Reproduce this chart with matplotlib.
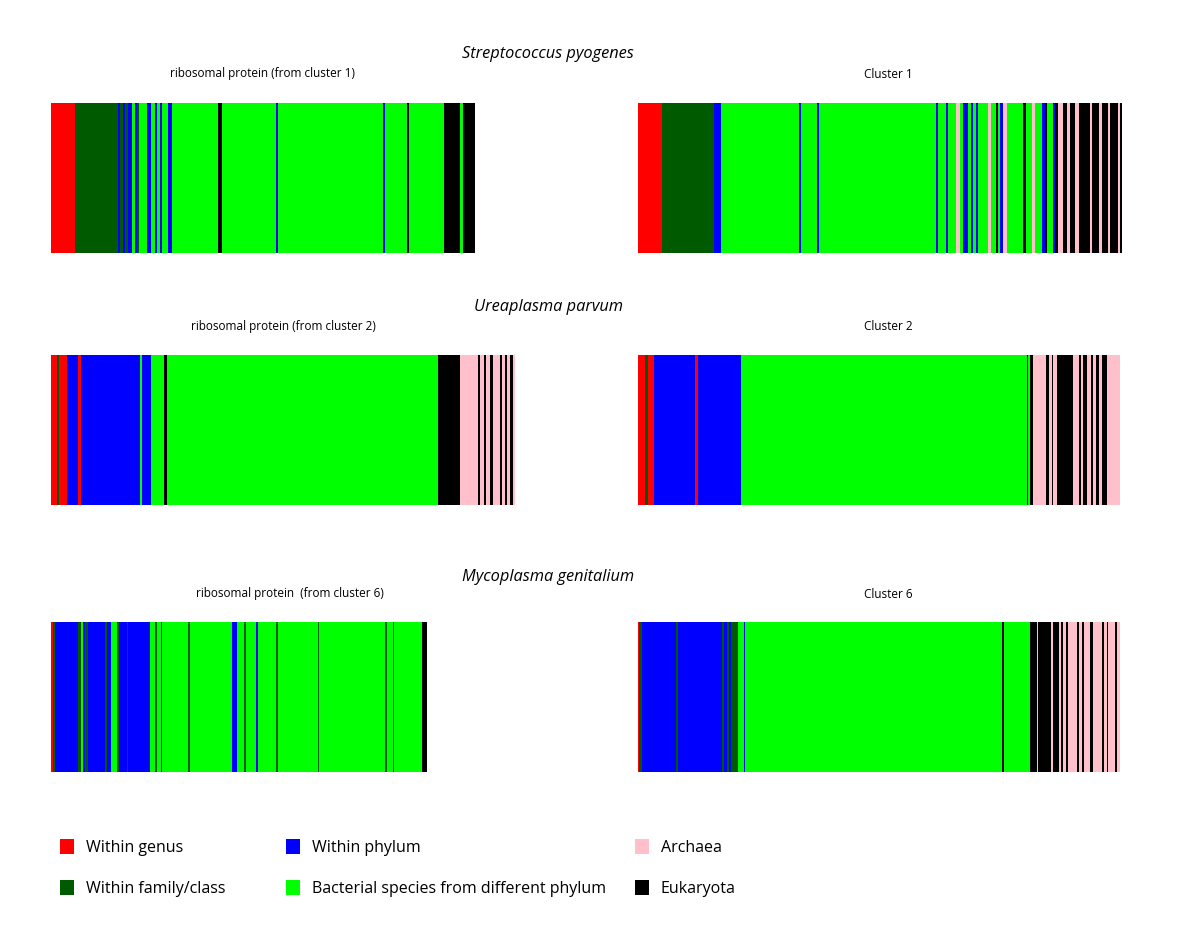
"""
Hit-taxonomy barcodes for three genomes: each bar is the ordered list of
BLAST hits for a ribosomal protein (left) and its whole cluster (right),
coloured by how far the hit sits from the query taxon.
"""
import matplotlib.pyplot as plt
from matplotlib.patches import Rectangle

W, H = 1200, 927

colors = {
    "R": "#ff0000",   # within genus
    "D": "#005a00",   # within family/class
    "B": "#0000ff",   # within phylum
    "G": "#00ff00",   # bacterial species from different phylum
    "P": "#ffc0cb",   # archaea
    "K": "#000000",   # eukaryota
}

species = ["Streptococcus pyogenes", "Ureaplasma parvum", "Mycoplasma genitalium"]
left_titles = ["ribosomal protein (from cluster 1)",
               "ribosomal protein (from cluster 2)",
               "ribosomal protein  (from cluster 6)"]
right_titles = ["Cluster 1", "Cluster 2", "Cluster 6"]

# run-length encoded hit categories and run widths
spy_rp_cats = "RDBDBDBGBD" "GBGBGBGBGK" "GBGBGKGKGK"
spy_rp_widths = [24, 43.3, 1.7, 3, 2, 3, 4, 3, 2, 2,
                 8, 3.7, 4.3, 1.7, 3.3, 1.7, 6.6, 4, 46, 3.4,
                 54, 2, 105, 2.3, 21.7, 2.3, 35.3, 15.7, 2.7, 12.3]

spy_cl_cats = "RDBGBGBGBG" "BGPGBGBGBG" "PGKGBPGKGP" "GBKGBKPKPK" "PKPKPKPKPK"
spy_cl_widths = [24, 51.7, 7.6, 77.4, 2.3, 16, 2.3, 116.7, 2.3, 7.4,
                 2, 8, 4.3, 3.3, 5, 2.4, 2, 3, 2, 10.6,
                 2.4, 5, 2, 2.3, 2.7, 4, 16.6, 2.4, 6.6, 2.7,
                 6.7, 3.3, 1.7, 6.6, 1.7, 2.7, 5.6, 3.4, 3.3, 5,
                 4, 11, 2.3, 6.7, 2.7, 6.6, 1.7, 7.7, 2.3, 1.7]

upa_rp_cats = "RDRBRBGBGK" "GKPKPKPKPK" "PKPKP"
upa_rp_widths = [5.7, 2.3, 7.7, 11.6, 2.7, 59, 2.3, 8.7, 13.3, 2.4,
                 271.6, 21.7, 18.3, 1.7, 4, 2, 4, 3.3, 6.7, 1.7,
                 3.3, 2.3, 2.7, 3.3, 1.7]

upa_cl_cats = "RDRBRBGKGK" "PKPKPKPKPK" "PKPKPKP"
upa_cl_widths = [7.3, 2.7, 5.7, 41.6, 2.7, 43.3, 285.4, 1.6, 1.7, 2.7,
                 13, 3.3, 2.7, 1.6, 3.4, 16.6, 5.7, 2, 2.3, 3.4,
                 4.3, 2.3, 2.4, 3.3, 3.3, 4.4, 13.3]

mge_rp_cats = "RDBDGBDBDB" "GDBDBGDGBG" "DGBGDGBGDG" "DGDGDGK"
mge_rp_widths = [2.3, 1.7, 23.3, 2.7, 2.3, 1.7, 2.7, 17.3, 1.7, 4,
                 6, 2.3, 7.7, 1.6, 21.7, 5, 1.7, 4, 1.6, 26,
                 1.7, 41.7, 5, 7.6, 1.7, 9.7, 2, 18, 2, 40,
                 1.6, 65.7, 2, 5.7, 1.6, 28, 4.4]

mge_cl_cats = "RDBDBDBDBD" "GBGKGKPKPK" "PKPKPKPKPK" "PKPKPKP"
mge_cl_widths = [1.3, 2.7, 34.3, 1.7, 44, 1.7, 3.3, 2.3, 2, 6.7,
                 5.7, 1.6, 257, 1.7, 26, 6.7, 1.6, 12.7, 2.3, 6,
                 1.7, 2.3, 2.4, 2.6, 8.4, 2.3, 2.7, 2.6, 5.7, 3.3,
                 8.4, 2.6, 3, 1, 6.7, 1.7, 3.3]

rows = [
    ((spy_rp_cats, spy_rp_widths), (spy_cl_cats, spy_cl_widths)),
    ((upa_rp_cats, upa_rp_widths), (upa_cl_cats, upa_cl_widths)),
    ((mge_rp_cats, mge_rp_widths), (mge_cl_cats, mge_cl_widths)),
]

# pixel layout of the reference
bar_tops = [103, 355, 622]
bar_h = 150
col_left = [51, 638]
col_span = [470, 486]
species_y = [54, 307, 577]
sub_y = [74, 327, 594]
left_title_x = [263, 283, 290]
right_title_x = 888


def fx(x):
    return x / W


def fy(y):
    return 1 - y / H


fig = plt.figure(figsize=(W / 100, H / 100), dpi=100)
plt.rcParams["font.family"] = ["Open Sans", "DejaVu Sans"]

for r, pair in enumerate(rows):
    for c, (cats, widths) in enumerate(pair):
        assert len(cats) == len(widths), (r, c, len(cats), len(widths))
        ax = fig.add_axes([fx(col_left[c]), fy(bar_tops[r] + bar_h),
                           col_span[c] / W, bar_h / H])
        lefts = [sum(widths[:i]) for i in range(len(widths))]
        ax.barh(0, widths, left=lefts, height=1,
                color=[colors[k] for k in cats], linewidth=0)
        ax.set_xlim(0, col_span[c])
        ax.set_ylim(-0.5, 0.5)
        ax.axis("off")
    fig.text(fx(548), fy(species_y[r]), species[r], ha="center", va="center",
             fontsize=11.8, style="italic")
    fig.text(fx(left_title_x[r]), fy(sub_y[r]), left_titles[r], ha="center",
             va="center", fontsize=8.5)
    fig.text(fx(right_title_x), fy(sub_y[r]), right_titles[r], ha="center",
             va="center", fontsize=8.5)

# legend
legend_labels = ["Within genus", "Within family/class", "Within phylum",
                 "Bacterial species from different phylum", "Archaea", "Eukaryota"]
legend_keys = ["R", "D", "B", "G", "P", "K"]
legend_x = [60, 60, 286, 286, 635, 635]
legend_y = [847, 888, 847, 888, 847, 888]
for lab, key, x, y in zip(legend_labels, legend_keys, legend_x, legend_y):
    fig.patches.append(Rectangle((fx(x), fy(y + 7)), 14 / W, 15 / H,
                                 transform=fig.transFigure,
                                 facecolor=colors[key], edgecolor="none"))
    fig.text(fx(x + 26), fy(y + 1), lab, ha="left", va="center", fontsize=11.5)

fig.savefig("out.png", dpi=100)
